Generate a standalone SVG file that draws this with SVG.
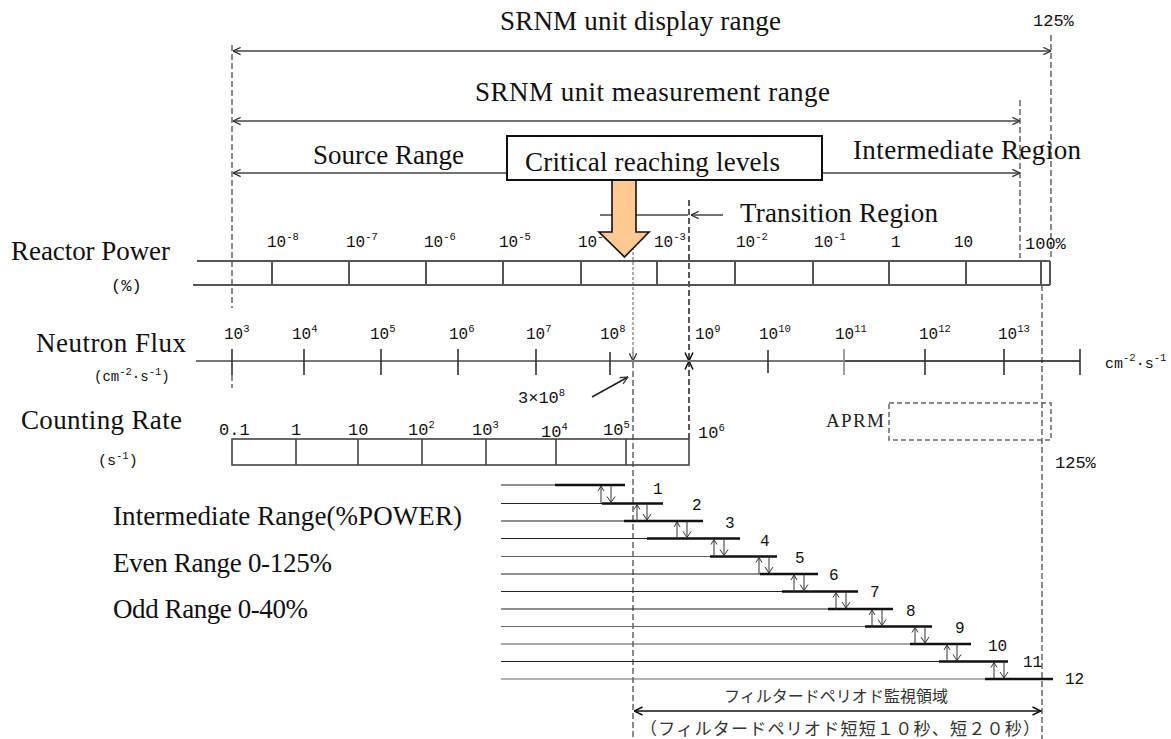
<svg xmlns="http://www.w3.org/2000/svg" width="1171" height="739" viewBox="0 0 1171 739">
<defs>
<marker id="ah" viewBox="0 0 10 10" refX="9.5" refY="5" markerWidth="9" markerHeight="9" markerUnits="userSpaceOnUse" orient="auto-start-reverse"><path d="M1,1 L9.5,5 L1,9" fill="none" stroke="#333" stroke-width="1.4"/></marker>
<marker id="ahk" viewBox="0 0 10 10" refX="9.5" refY="5" markerWidth="10" markerHeight="10" markerUnits="userSpaceOnUse" orient="auto-start-reverse"><path d="M1,1 L9.5,5 L1,9" fill="none" stroke="#111" stroke-width="1.5"/></marker>
</defs>
<style>
.lbl{font-family:"Liberation Serif","Times New Roman",serif;font-size:27px;fill:#111}
.num{font-family:"Liberation Mono","Courier New",monospace;font-size:16px;fill:#111}
.big{font-size:17px}
.sup{font-size:10.5px}
.jp{font-family:"Noto Sans CJK JP",sans-serif;font-size:16px;fill:#333}
.ln{stroke:#444;stroke-width:1.5;fill:none}
.box{stroke:#555;stroke-width:2;fill:none}
.dash{stroke:#666;stroke-width:1.5;stroke-dasharray:6 3;fill:none}
.dot{stroke:#777;stroke-width:1.2;stroke-dasharray:3 2;fill:none}
.thick{stroke:#111;stroke-width:2.5}
.thin{stroke:#222;stroke-width:1.2}
.sym{stroke:#333;stroke-width:1;fill:none}
</style>
<rect width="1171" height="739" fill="#fff"/>

<g id="guides">
<line class="dash" x1="232" y1="45" x2="232" y2="308"/>
<line class="dash" x1="232" y1="375" x2="232" y2="388"/>
<line class="dash" x1="1051" y1="35" x2="1051" y2="258"/>
<line class="dash" x1="1020" y1="100" x2="1020" y2="258"/>
<line class="dash" x1="1042" y1="285" x2="1042" y2="739"/>
<line class="dot" x1="633" y1="247" x2="633" y2="361"/>
<line class="dash" x1="633" y1="362" x2="633" y2="739"/>
</g>

<g id="connectors">
<line class="ln" x1="233" y1="51" x2="1051" y2="51" marker-start="url(#ah)" marker-end="url(#ah)"/>
<line class="ln" x1="233" y1="121" x2="1020" y2="121" marker-start="url(#ah)" marker-end="url(#ah)"/>
<line class="ln" x1="233" y1="173" x2="507" y2="173" marker-start="url(#ah)"/>
<line class="ln" x1="822" y1="173" x2="1020" y2="173" marker-end="url(#ah)"/>
<line class="ln" x1="600" y1="215" x2="688" y2="215"/>
<line class="ln" x1="723" y1="215" x2="691" y2="215" marker-end="url(#ah)"/>
<line class="dot" x1="633" y1="350" x2="633" y2="361" marker-end="url(#ah)"/>
<line class="dash" x1="689" y1="200" x2="689" y2="361" marker-end="url(#ahk)" style="stroke:#222"/>
<line class="dash" x1="689" y1="439" x2="689" y2="361" marker-end="url(#ahk)" style="stroke:#222"/>
<line class="ln" x1="592" y1="397" x2="628" y2="377" marker-end="url(#ah)" style="stroke:#222"/>
<line class="ln" x1="634" y1="711" x2="1041" y2="711" marker-start="url(#ahk)" marker-end="url(#ahk)" style="stroke:#111"/>
</g>

<g id="display-range">
<text class="lbl" x="500" y="30" textLength="281">SRNM unit display range</text>
<text class="num big" x="1033" y="26">125%</text>
</g>
<g id="measurement-range">
<text class="lbl" x="475" y="101" textLength="355">SRNM unit measurement range</text>
</g>
<g id="source-range">
<text class="lbl" x="313" y="164" textLength="151">Source Range</text>
</g>
<g id="intermediate-region">
<text class="lbl" x="853" y="159" textLength="228">Intermediate Region</text>
</g>
<g id="transition-region">
<text class="lbl" x="740" y="222" textLength="198">Transition Region</text>
</g>

<g id="reactor-power">
<text class="lbl" x="11" y="260" textLength="159">Reactor Power</text>
<text class="num big" x="111" y="291">(%)</text>
<line class="box" x1="197" y1="261" x2="1050" y2="261"/>
<line class="box" x1="193" y1="285" x2="1050" y2="285"/>
<g class="box">
<line x1="1050" y1="261" x2="1050" y2="285"/>
<line x1="272" y1="261" x2="272" y2="285"/>
<line x1="349" y1="261" x2="349" y2="285"/>
<line x1="426" y1="261" x2="426" y2="285"/>
<line x1="503" y1="261" x2="503" y2="285"/>
<line x1="581" y1="261" x2="581" y2="285"/>
<line x1="657" y1="261" x2="657" y2="285"/>
<line x1="735" y1="261" x2="735" y2="285"/>
<line x1="813" y1="261" x2="813" y2="285"/>
<line x1="889" y1="261" x2="889" y2="285"/>
<line x1="966" y1="261" x2="966" y2="285"/>
<line x1="1041" y1="261" x2="1041" y2="285"/>
</g>
<text class="num" x="267" y="247">10<tspan class="sup" dy="-7">-8</tspan></text>
<text class="num" x="346" y="247">10<tspan class="sup" dy="-7">-7</tspan></text>
<text class="num" x="424" y="247">10<tspan class="sup" dy="-7">-6</tspan></text>
<text class="num" x="499" y="247">10<tspan class="sup" dy="-7">-5</tspan></text>
<text class="num" x="578" y="247">10<tspan class="sup" dy="-7">-4</tspan></text>
<text class="num" x="654" y="247">10<tspan class="sup" dy="-7">-3</tspan></text>
<text class="num" x="736" y="247">10<tspan class="sup" dy="-7">-2</tspan></text>
<text class="num" x="814" y="247">10<tspan class="sup" dy="-7">-1</tspan></text>
<text class="num" x="891" y="247">1</text>
<text class="num" x="954" y="247">10</text>
<text class="num big" x="1025" y="249">100%</text>
</g>

<g id="critical-level">
<polygon points="612,180 636,180 636,232 649,232 624.5,257 599,232 612,232" fill="#FFC991" stroke="#111" stroke-width="1.6"/>
<rect x="507" y="136" width="315" height="44" fill="#fff" stroke="#111" stroke-width="2"/>
<text class="lbl" x="525" y="171" textLength="255">Critical reaching levels</text>
</g>

<g id="neutron-flux">
<text class="lbl" x="36" y="352" textLength="150">Neutron Flux</text>
<text class="num" x="94" y="381" style="font-size:14px">(cm<tspan class="sup" dy="-6">-2</tspan><tspan dy="6">·s</tspan><tspan class="sup" dy="-6">-1</tspan><tspan dy="6">)</tspan></text>
<line x1="196" y1="361" x2="844" y2="361" stroke="#777" stroke-width="2"/>
<line x1="844" y1="361" x2="1080" y2="361" stroke="#111" stroke-width="1.5"/>
<g stroke="#333" stroke-width="1.6">
<line x1="232" y1="349" x2="232" y2="375"/>
<line x1="304" y1="349" x2="304" y2="375"/>
<line x1="381" y1="349" x2="381" y2="375"/>
<line x1="458" y1="349" x2="458" y2="375"/>
<line x1="536" y1="349" x2="536" y2="375"/>
<line x1="610" y1="352" x2="610" y2="375"/>
<line x1="768" y1="350" x2="768" y2="373"/>
<line x1="844" y1="349" x2="844" y2="375" stroke="#888"/>
<line x1="925" y1="349" x2="925" y2="375"/>
<line x1="1004" y1="349" x2="1004" y2="375"/>
<line x1="1080" y1="349" x2="1080" y2="375"/>
</g>
<text class="num" x="224" y="339">10<tspan class="sup" dy="-7">3</tspan></text>
<text class="num" x="292" y="339">10<tspan class="sup" dy="-7">4</tspan></text>
<text class="num" x="370" y="339">10<tspan class="sup" dy="-7">5</tspan></text>
<text class="num" x="449" y="339">10<tspan class="sup" dy="-7">6</tspan></text>
<text class="num" x="526" y="339">10<tspan class="sup" dy="-7">7</tspan></text>
<text class="num" x="600" y="339">10<tspan class="sup" dy="-7">8</tspan></text>
<text class="num" x="695" y="339">10<tspan class="sup" dy="-7">9</tspan></text>
<text class="num" x="759" y="339">10<tspan class="sup" dy="-7">10</tspan></text>
<text class="num" x="835" y="339">10<tspan class="sup" dy="-7">11</tspan></text>
<text class="num" x="919" y="339">10<tspan class="sup" dy="-7">12</tspan></text>
<text class="num" x="998" y="339">10<tspan class="sup" dy="-7">13</tspan></text>
<text class="num" x="1105" y="368" style="font-size:15px">cm<tspan class="sup" dy="-7">-2</tspan><tspan dy="7">·s</tspan><tspan class="sup" dy="-7">-1</tspan></text>
<text class="num big" x="518" y="403">3×10<tspan class="sup" dy="-7">8</tspan></text>
</g>

<g id="counting-rate">
<text class="lbl" x="21" y="429" textLength="161">Counting Rate</text>
<text class="num" x="98" y="465" style="font-size:15px">(s<tspan class="sup" dy="-6">-1</tspan><tspan dy="6">)</tspan></text>
<rect x="232" y="439" width="457" height="26" fill="none" stroke="#444" stroke-width="1.6"/>
<g stroke="#444" stroke-width="1.6">
<line x1="296" y1="439" x2="296" y2="465"/>
<line x1="358" y1="439" x2="358" y2="465"/>
<line x1="422" y1="439" x2="422" y2="465"/>
<line x1="486" y1="439" x2="486" y2="465"/>
<line x1="556" y1="439" x2="556" y2="465"/>
<line x1="626" y1="439" x2="626" y2="465"/>
</g>
<text class="num big" x="219" y="435">0.1</text>
<text class="num big" x="291" y="435">1</text>
<text class="num big" x="348" y="435">10</text>
<text class="num big" x="408" y="435">10<tspan class="sup" dy="-7">2</tspan></text>
<text class="num big" x="472" y="435">10<tspan class="sup" dy="-7">3</tspan></text>
<text class="num big" x="541" y="437">10<tspan class="sup" dy="-7">4</tspan></text>
<text class="num big" x="603" y="435">10<tspan class="sup" dy="-7">5</tspan></text>
<text class="num big" x="698" y="438">10<tspan class="sup" dy="-7">6</tspan></text>
</g>

<g id="aprm">
<text x="826" y="427" textLength="58" style="font-family:'Liberation Serif','Times New Roman',serif;font-size:19px;fill:#222">APRM</text>
<rect x="889" y="403" width="162" height="37" fill="none" stroke="#666" stroke-width="1.5" stroke-dasharray="5 3"/>
<text class="num big" x="1055" y="468">125%</text>
</g>

<g id="intermediate-range-labels">
<text class="lbl" x="113" y="525" textLength="349">Intermediate Range(%POWER)</text>
<text class="lbl" x="113" y="572" textLength="219">Even Range 0-125%</text>
<text class="lbl" x="113" y="618" textLength="195">Odd Range 0-40%</text>
</g>

<g id="range-steps">
<g class="thin">
<line x1="501" y1="485" x2="625" y2="485"/>
<line x1="501" y1="503.5" x2="663" y2="503.5"/>
<line x1="501" y1="521" x2="703" y2="521"/>
<line x1="501" y1="538.5" x2="740" y2="538.5"/>
<line x1="501" y1="556.5" x2="777" y2="556.5" stroke="#666"/>
<line x1="501" y1="574" x2="818" y2="574"/>
<line x1="501" y1="591.5" x2="858" y2="591.5"/>
<line x1="501" y1="609" x2="893" y2="609"/>
<line x1="501" y1="626.5" x2="932" y2="626.5" stroke="#666"/>
<line x1="501" y1="644" x2="971" y2="644" stroke="#555"/>
<line x1="501" y1="661.5" x2="1008" y2="661.5"/>
<line x1="501" y1="679" x2="1053" y2="679" stroke="#666"/>
</g>
<g class="thick">
<line x1="555" y1="485" x2="625" y2="485"/>
<line x1="602" y1="503.5" x2="663" y2="503.5"/>
<line x1="624" y1="521" x2="703" y2="521"/>
<line x1="647" y1="538.5" x2="740" y2="538.5"/>
<line x1="710" y1="556.5" x2="777" y2="556.5"/>
<line x1="760" y1="574" x2="818" y2="574"/>
<line x1="782" y1="591.5" x2="858" y2="591.5"/>
<line x1="828" y1="609" x2="893" y2="609"/>
<line x1="865" y1="626.5" x2="932" y2="626.5"/>
<line x1="910" y1="644" x2="971" y2="644"/>
<line x1="939" y1="661.5" x2="1008" y2="661.5"/>
<line x1="985" y1="679" x2="1053" y2="679"/>
</g>
<g class="sym">
<path d="M601,503.5 V486 M598,491 L601,486 L604,491 M611,485 V502.5 M607,496.5 L611,502.5 L615,496.5"/>
<path d="M637,521 V504.5 M634,509.5 L637,504.5 L640,509.5 M647,503.5 V520 M643,514 L647,520 L651,514"/>
<path d="M677,538.5 V522 M674,527 L677,522 L680,527 M687,521 V537.5 M683,531.5 L687,537.5 L691,531.5"/>
<path d="M714,556.5 V539.5 M711,544.5 L714,539.5 L717,544.5 M724,538.5 V555.5 M720,549.5 L724,555.5 L728,549.5"/>
<path d="M759,574 V557.5 M756,562.5 L759,557.5 L762,562.5 M769,556.5 V573 M765,567 L769,573 L773,567"/>
<path d="M794,591.5 V575 M791,580 L794,575 L797,580 M804,574 V590.5 M800,584.5 L804,590.5 L808,584.5"/>
<path d="M836,609 V592.5 M833,597.5 L836,592.5 L839,597.5 M846,591.5 V608 M842,602 L846,608 L850,602"/>
<path d="M872,626.5 V610 M869,615 L872,610 L875,615 M882,609 V625.5 M878,619.5 L882,625.5 L886,619.5"/>
<path d="M915,644 V627.5 M912,632.5 L915,627.5 L918,632.5 M925,626.5 V643 M921,637 L925,643 L929,637"/>
<path d="M947,661.5 V645 M944,650 L947,645 L950,650 M957,644 V660.5 M953,654.5 L957,660.5 L961,654.5"/>
<path d="M994,679 V662.5 M991,667.5 L994,662.5 L997,667.5 M1004,661.5 V678 M1000,672 L1004,678 L1008,672"/>
</g>
<g class="num" style="font-size:16px">
<text x="653" y="494">1</text>
<text x="692" y="510">2</text>
<text x="725" y="528">3</text>
<text x="760" y="546">4</text>
<text x="795" y="563">5</text>
<text x="829" y="580">6</text>
<text x="870" y="597">7</text>
<text x="906" y="616">8</text>
<text x="955" y="633">9</text>
<text x="988" y="651">10</text>
<text x="1023" y="667">11</text>
<text x="1065" y="684">12</text>
</g>
</g>

<g id="filtered-period">
<text class="jp" x="724" y="702" textLength="224">フィルタードペリオド監視領域</text>
<text class="jp" x="640" y="735" textLength="400" style="font-size:17px">（フィルタードペリオド短短１０秒、短２０秒）</text>
</g>
</svg>
